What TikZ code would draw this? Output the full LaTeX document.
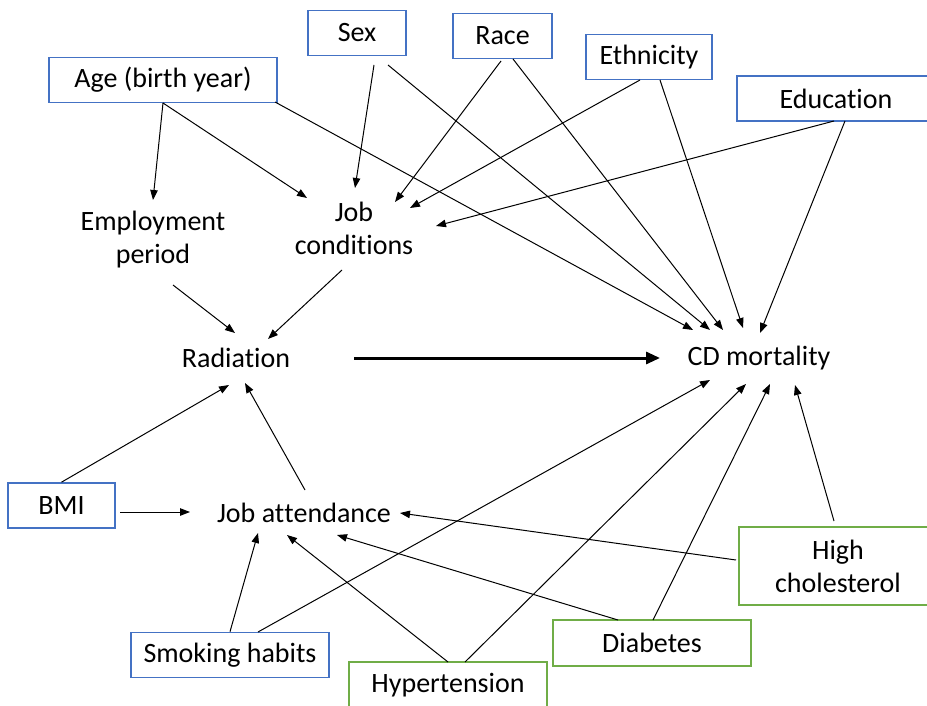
\documentclass[tikz,border=0pt]{standalone}
\usepackage{fontspec}
\setmainfont[RawFeature={-liga;-clig;-calt;-dlig;-rlig}]{Carlito}
\usetikzlibrary{calc,arrows.meta}
\definecolor{bbox}{HTML}{4472C4}
\definecolor{gbox}{HTML}{70AD47}
\newcommand{\nolig}{\kern0pt}
\tikzset{
  lbl/.style={font=\fontsize{28}{33}\selectfont, align=center, inner sep=0pt},
  bluebox/.style={lbl, draw=bbox, line width=1.6pt, minimum height=45pt},
  greenbox/.style={lbl, draw=gbox, line width=1.3pt, minimum height=46pt},
  arr/.style={line width=1pt, -{Triangle[length=10pt,width=7.5pt]}},
  bigarr/.style={line width=3pt, -{Triangle[length=14pt,width=12pt]}}
}
\begin{document}
\begin{tikzpicture}[x=1pt,y=-1pt]
\useasboundingbox (0,0) rectangle (927,706);
% boxes
\node[bluebox, minimum width=228pt] (age) at (163,80) {Age (birth year)};
\node[bluebox, minimum width=98pt] (sex) at (357,33) {Sex};
\node[bluebox, minimum width=99pt] (race) at (502.5,36) {Race};
\node[bluebox, minimum width=126pt] (eth) at (649,57) {Ethnicity};
\node[bluebox, minimum width=198pt] (edu) at (836,98.5) {Educat\nolig ion};
\node[bluebox, minimum width=107pt] (bmi) at (61.5,505.5) {BMI};
\node[bluebox, minimum width=198pt] (smoke) at (230,655) {Smoking habits};
\node[greenbox, minimum width=198pt] (hyp) at (448,685) {Hypertension};
\node[greenbox, minimum width=198pt] (diab) at (652,643) {Diabetes};
\node[greenbox, minimum width=198pt, minimum height=78pt] (chol) at (838,566) {High\\cholesterol};
% plain nodes
\node[lbl] (emp) at (153,240) {Employment\\period};
\node[lbl] (jc) at (354,228) {Job\\condit\nolig ions};
\node[lbl] (rad) at (236,358) {Radiat\nolig ion};
\node[lbl] (cd) at (759,358) {CD mortality};
\node[lbl] (ja) at (304,513) {Job at\nolig t\nolig endance};
% arrows
\draw[arr] ($(age)+(0,23)$) -- ($(emp)+(0,-40)$);
\draw[arr] ($(age)+(0,23)$) -- ($(jc)+(-47,-30)$);
\draw[arr] ($(age)+(112,22)$) -- ($(cd)+(-66,-28)$);
\draw[arr] ($(sex)+(17,32)$) -- ($(jc)+(1,-40)$);
\draw[arr] ($(sex)+(31,32)$) -- ($(cd)+(-49,-28)$);
\draw[arr] ($(race)+(-1.5,25)$) -- ($(jc)+(41,-26)$);
\draw[arr] ($(race)+(10.5,23)$) -- ($(cd)+(-36,-28)$);
\draw[arr] ($(eth)+(-9,23)$) -- ($(jc)+(56,-20)$);
\draw[arr] ($(eth)+(11,23)$) -- ($(cd)+(-16,-30)$);
\draw[arr] ($(edu)+(-2,22.5)$) -- ($(jc)+(82,-2)$);
\draw[arr] ($(edu)+(9,22.5)$) -- ($(cd)+(1,-25)$);
\draw[arr] ($(emp)+(20,45)$) -- ($(rad)+(-1,-25)$);
\draw[arr] ($(jc)+(-12,42)$) -- ($(rad)+(32,-19)$);
\draw[bigarr] ($(rad)+(118,0)$) -- ($(cd)+(-99,0)$);
\draw[arr] (bmi.north) -- ($(rad)+(-7,27)$);
\draw[arr] ($(bmi)+(58.5,6.5)$) -- ($(ja)+(-114,-1)$);
\draw[arr] ($(ja)+(1,-23)$) -- ($(rad)+(9,25)$);
\draw[arr] (smoke.north) -- ($(ja)+(-46,20)$);
\draw[arr] ($(smoke)+(28,-23)$) -- ($(cd)+(-49,22)$);
\draw[arr] ($(hyp)+(0,-23)$) -- ($(ja)+(-17,22)$);
\draw[arr] ($(hyp)+(17,-23)$) -- ($(cd)+(-13,26)$);
\draw[arr] ($(diab)+(-34,-23)$) -- ($(ja)+(33,22)$);
\draw[arr] ($(diab)+(1,-23)$) -- ($(cd)+(11,26)$);
\draw[arr] ($(chol)+(-102,-6)$) -- ($(ja)+(96,0)$);
\draw[arr] ($(chol)+(-4,-45)$) -- ($(cd)+(36,27)$);
\end{tikzpicture}
\end{document}
